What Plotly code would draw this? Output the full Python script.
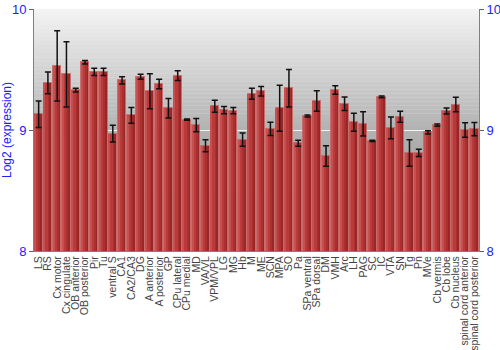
import plotly.graph_objects as go

regions = ["LS", "RS", "Cx motor", "Cx cingulate", "OB anterior", "OB posterior", "Pir", "Tu",
           "ventral S", "CA1", "CA2/CA3", "DG", "A anterior", "A posterior", "GP", "CPu lateral",
           "CPu medial", "MD", "VA/VL", "VPM/VPL", "LG", "MG", "Hb", "M", "ME", "SCN", "MPA", "SO",
           "Pa", "SPa ventral", "SPa dorsal", "DM", "VMH", "Arc", "LH", "PAG", "SC", "IC", "VTA",
           "SN", "Tg", "Pn", "MVe", "Cb vermis", "Cb lobe", "Cb nucleus", "spinal cord anterior",
           "spinal cord posterior"]

expression = [9.13, 9.39, 9.53, 9.46, 9.33, 9.56, 9.48, 9.48,
              8.97, 9.41, 9.12, 9.44, 9.32, 9.38, 9.18, 9.45,
              9.085, 9.04, 8.87, 9.196, 9.165, 9.16, 8.92, 9.30, 9.32, 9.01, 9.18, 9.345,
              8.89, 9.116, 9.24, 8.785, 9.33, 9.217, 9.064, 9.05, 8.91, 9.273, 9.017,
              9.11, 8.81, 8.81, 8.98, 9.04, 9.157, 9.21, 9.0, 9.008]

error = [0.11, 0.09, 0.29, 0.27, 0.015, 0.015, 0.03, 0.03,
         0.07, 0.03, 0.065, 0.02, 0.145, 0.04, 0.08, 0.04,
         0.005, 0.055, 0.05, 0.05, 0.03, 0.025, 0.055, 0.045, 0.04, 0.055, 0.19, 0.155,
         0.025, 0.008, 0.085, 0.085, 0.035, 0.055, 0.075, 0.1, 0.005, 0.007, 0.09,
         0.045, 0.11, 0.03, 0.013, 0.01, 0.025, 0.06, 0.06, 0.055]

y_ticks = [8, 9, 10]

fig = go.Figure()

# layered bars to imitate the cylinder-like shading
layers = [
    (0.9, -0.45, "#8a1f1f"),
    (0.78, -0.44, "#9a2727"),
    (0.6, -0.43, "#aa3030"),
    (0.4, -0.42, "#b83a3a"),
    (0.12, -0.43, "#c65050"),
]
for i, (w, off, col) in enumerate(layers):
    fig.add_trace(go.Bar(
        x=regions, y=expression, width=w, offset=off,
        marker=dict(color=col, line=dict(width=1 if i == 0 else 0, color="rgba(205,110,110,0.9)")),
        hoverinfo="skip", showlegend=False,
    ))

fig.add_trace(go.Scatter(
    x=regions, y=expression, mode="markers", marker=dict(opacity=0, size=1),
    error_y=dict(type="data", array=error, color="#111111", thickness=1.5, width=3),
    yaxis="y2", hoverinfo="skip", showlegend=False,
))

# background gradient bands
n = 60
shapes = []
for k in range(n):
    t = k / (n - 1)
    if t < 0.5:
        g = 243 + (178 - 243) * (t / 0.5)
    else:
        g = 178 + (140 - 178) * ((t - 0.5) / 0.5)
    g = int(round(g))
    shapes.append(dict(type="rect", xref="paper", yref="paper", x0=0, x1=1,
                       y0=1 - (k + 1) / n, y1=1 - k / n + 0.001,
                       fillcolor=f"rgb({g},{g},{g})", line=dict(width=0), layer="below"))

fig.update_layout(
    width=500, height=350,
    margin=dict(l=34, r=21, t=9, b=99),
    paper_bgcolor="white", plot_bgcolor="rgba(0,0,0,0)",
    barmode="overlay", bargap=0,
    shapes=shapes,
    font=dict(family="Liberation Sans, Arial", size=12),
    xaxis=dict(tickangle=-90, tickfont=dict(size=10.5, color="#444444"),
               tickmode="array", tickvals=regions, ticktext=regions,
               showgrid=False, ticks="", showline=True, linecolor="#808080",
               range=[-0.5, len(regions) - 0.5], automargin=False),
    yaxis=dict(range=[8, 10], tickvals=y_ticks, tickfont=dict(size=13, color="#2020ff"),
               ticks="outside", ticklen=4, tickcolor="#606060",
               showline=True, linecolor="#808080", mirror=True,
               showgrid=True, gridcolor="#f4f4f4", gridwidth=1, zeroline=False,
               title=dict(text="Log2 (expression)", font=dict(size=12, color="#2020ff"), standoff=4),
               automargin=False),
    yaxis2=dict(range=[8, 10], tickvals=y_ticks, overlaying="y", side="right",
                tickfont=dict(size=13, color="#2020ff"), ticks="outside", ticklen=4,
                tickcolor="#606060", showgrid=False, zeroline=False, showline=True,
                linecolor="#808080", automargin=False),
)

fig.write_html("out.html")
